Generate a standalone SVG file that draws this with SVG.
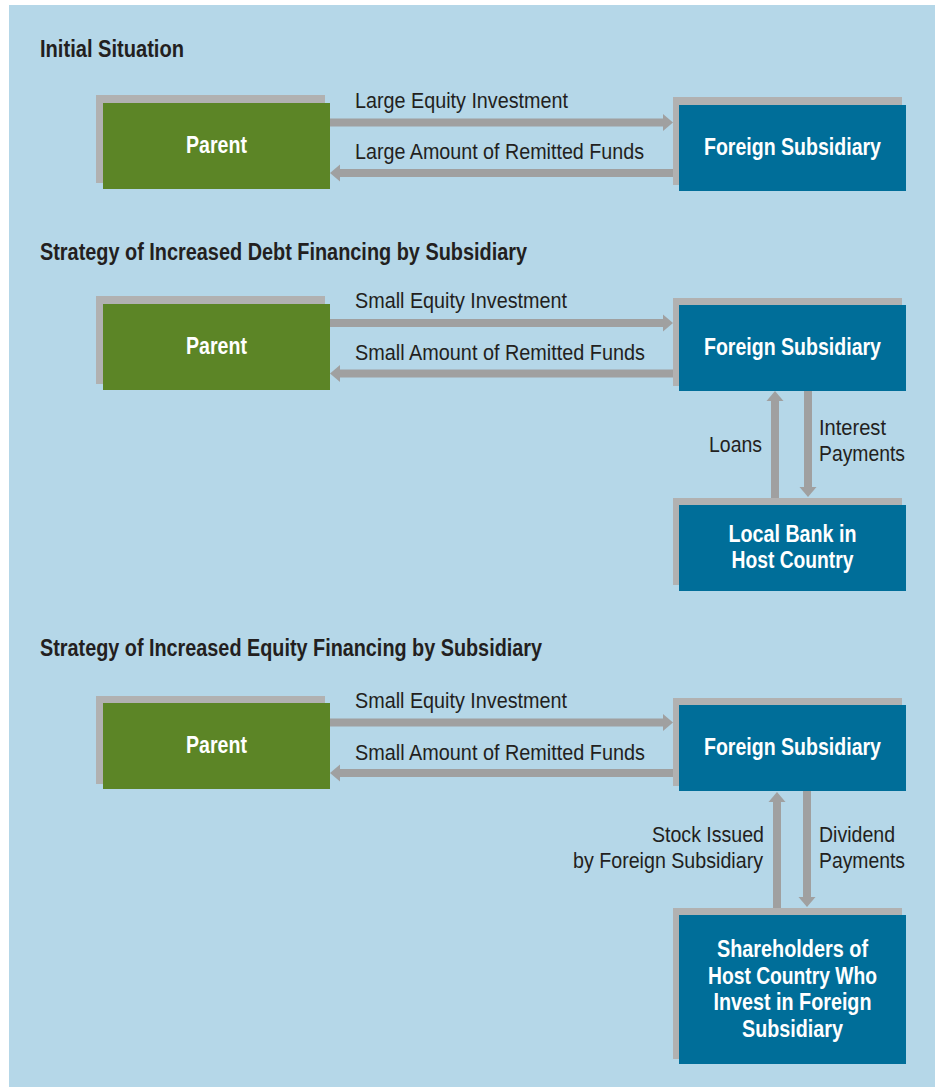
<svg xmlns="http://www.w3.org/2000/svg" width="935" height="1087" viewBox="0 0 935 1087">
<style>
.bg{fill:#b5d7e8}
.sh{fill:#b1b1b1}
.g{fill:#5c8526}
.b{fill:#006e99}
.t{font-family:"Liberation Sans",Arial,sans-serif;font-size:22px;fill:#231f20}
.h{font-family:"Liberation Sans",Arial,sans-serif;font-size:23px;font-weight:bold;fill:#231f20}
.w{font-family:"Liberation Sans",Arial,sans-serif;font-size:23px;font-weight:bold;fill:#ffffff;text-anchor:middle}
.c{stroke:#a0a0a0;stroke-width:8;fill:none}
</style>
<defs>
<marker id="ah" markerUnits="userSpaceOnUse" markerWidth="10" markerHeight="17" refX="0" refY="8.5" orient="auto" overflow="visible">
<path d="M0,0 L10,8.5 L0,17 z" fill="#a0a0a0"/>
</marker>
</defs>
<rect class="bg" x="9" y="5" width="926" height="1082"/>

<text class="h" x="40" y="57" textLength="144" lengthAdjust="spacingAndGlyphs">Initial Situation</text>
<text class="h" x="40" y="260" textLength="487" lengthAdjust="spacingAndGlyphs">Strategy of Increased Debt Financing by Subsidiary</text>
<text class="h" x="40" y="656" textLength="502" lengthAdjust="spacingAndGlyphs">Strategy of Increased Equity Financing by Subsidiary</text>

<g id="connectors">
<line class="c" x1="330" y1="122.5" x2="663" y2="122.5" marker-end="url(#ah)"/>
<line class="c" x1="673" y1="173" x2="340" y2="173" marker-end="url(#ah)"/>
<line class="c" x1="330" y1="323" x2="663" y2="323" marker-end="url(#ah)"/>
<line class="c" x1="673" y1="373.5" x2="340" y2="373.5" marker-end="url(#ah)"/>
<line class="c" x1="775" y1="498" x2="775" y2="401" marker-end="url(#ah)"/>
<line class="c" x1="808" y1="391" x2="808" y2="487" marker-end="url(#ah)"/>
<line class="c" x1="330" y1="722.5" x2="663" y2="722.5" marker-end="url(#ah)"/>
<line class="c" x1="673" y1="773" x2="340" y2="773" marker-end="url(#ah)"/>
<line class="c" x1="777" y1="908" x2="777" y2="802" marker-end="url(#ah)"/>
<line class="c" x1="807" y1="791" x2="807" y2="897" marker-end="url(#ah)"/>
<text class="t" x="355" y="108" textLength="213" lengthAdjust="spacingAndGlyphs">Large Equity Investment</text>
<text class="t" x="355" y="159" textLength="289" lengthAdjust="spacingAndGlyphs">Large Amount of Remitted Funds</text>
<text class="t" x="355" y="308" textLength="212" lengthAdjust="spacingAndGlyphs">Small Equity Investment</text>
<text class="t" x="355" y="360" textLength="290" lengthAdjust="spacingAndGlyphs">Small Amount of Remitted Funds</text>
<text class="t" x="709" y="452" textLength="53" lengthAdjust="spacingAndGlyphs">Loans</text>
<text class="t" x="819" y="435" textLength="67" lengthAdjust="spacingAndGlyphs">Interest</text>
<text class="t" x="819" y="461" textLength="86" lengthAdjust="spacingAndGlyphs">Payments</text>
<text class="t" x="355" y="708" textLength="212" lengthAdjust="spacingAndGlyphs">Small Equity Investment</text>
<text class="t" x="355" y="760" textLength="290" lengthAdjust="spacingAndGlyphs">Small Amount of Remitted Funds</text>
<text class="t" x="652" y="842" textLength="112" lengthAdjust="spacingAndGlyphs">Stock Issued</text>
<text class="t" x="573" y="868" textLength="190" lengthAdjust="spacingAndGlyphs">by Foreign Subsidiary</text>
<text class="t" x="819" y="842" textLength="76" lengthAdjust="spacingAndGlyphs">Dividend</text>
<text class="t" x="819" y="868" textLength="86" lengthAdjust="spacingAndGlyphs">Payments</text>
</g>

<g id="parent1">
<rect class="sh" x="96" y="95" width="229" height="88"/>
<rect class="g" x="103" y="103" width="227" height="86"/>
<text class="w" x="216.5" y="153" textLength="61" lengthAdjust="spacingAndGlyphs">Parent</text>
</g>
<g id="subsidiary1">
<rect class="sh" x="673" y="97" width="229" height="88"/>
<rect class="b" x="679" y="105" width="227" height="86"/>
<text class="w" x="792.5" y="155" textLength="177" lengthAdjust="spacingAndGlyphs">Foreign Subsidiary</text>
</g>

<g id="parent2">
<rect class="sh" x="96" y="296" width="229" height="88"/>
<rect class="g" x="103" y="304" width="227" height="86"/>
<text class="w" x="216.5" y="354" textLength="61" lengthAdjust="spacingAndGlyphs">Parent</text>
</g>
<g id="subsidiary2">
<rect class="sh" x="673" y="298" width="229" height="88"/>
<rect class="b" x="679" y="305" width="227" height="86"/>
<text class="w" x="792.5" y="355" textLength="177" lengthAdjust="spacingAndGlyphs">Foreign Subsidiary</text>
</g>
<g id="bank">
<rect class="sh" x="673" y="498" width="229" height="87"/>
<rect class="b" x="679" y="505" width="227" height="86"/>
<text class="w" x="792.5" y="542" textLength="128" lengthAdjust="spacingAndGlyphs">Local Bank in</text>
<text class="w" x="792.5" y="568" textLength="122" lengthAdjust="spacingAndGlyphs">Host Country</text>
</g>

<g id="parent3">
<rect class="sh" x="96" y="696" width="229" height="88"/>
<rect class="g" x="103" y="703" width="227" height="86"/>
<text class="w" x="216.5" y="753" textLength="61" lengthAdjust="spacingAndGlyphs">Parent</text>
</g>
<g id="subsidiary3">
<rect class="sh" x="673" y="698" width="229" height="88"/>
<rect class="b" x="679" y="705" width="227" height="86"/>
<text class="w" x="792.5" y="755" textLength="177" lengthAdjust="spacingAndGlyphs">Foreign Subsidiary</text>
</g>
<g id="shareholders">
<rect class="sh" x="673" y="908" width="229" height="151"/>
<rect class="b" x="679" y="915" width="227" height="149"/>
<text class="w" x="792.5" y="957" textLength="151" lengthAdjust="spacingAndGlyphs">Shareholders of</text>
<text class="w" x="792.5" y="983.5" textLength="169" lengthAdjust="spacingAndGlyphs">Host Country Who</text>
<text class="w" x="792.5" y="1010" textLength="158" lengthAdjust="spacingAndGlyphs">Invest in Foreign</text>
<text class="w" x="792.5" y="1036.5" textLength="101" lengthAdjust="spacingAndGlyphs">Subsidiary</text>
</g>
</svg>
